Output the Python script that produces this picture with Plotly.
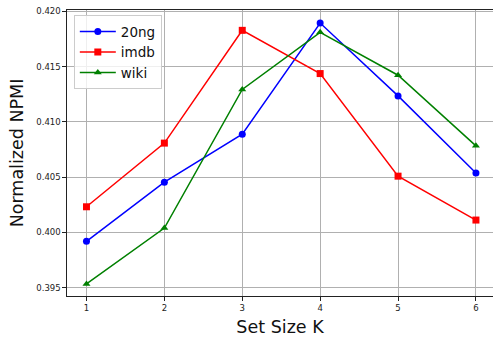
import plotly.graph_objects as go

set_size = [1, 2, 3, 4, 5, 6]
ng20 = [0.3992, 0.40455, 0.40889, 0.41894, 0.41235, 0.40537]
imdb = [0.40232, 0.40808, 0.41828, 0.41437, 0.40509, 0.40112]
wiki = [0.39534, 0.4004, 0.41293, 0.4181, 0.41422, 0.40783]
y_ticks = [0.395, 0.400, 0.405, 0.410, 0.415, 0.420]

fig = go.Figure()
series = [("20ng", ng20, "#0000ff", "circle"),
          ("imdb", imdb, "#ff0000", "square"),
          ("wiki", wiki, "#008000", "triangle-up")]
for name, vals, col, sym in series:
    fig.add_trace(go.Scatter(x=set_size, y=vals, name=name, mode="lines+markers",
                             line=dict(color=col, width=1.5),
                             marker=dict(color=col, symbol=sym, size=7)))

fig.update_layout(
    width=493, height=337,
    margin=dict(l=67, r=0, t=10, b=41),
    plot_bgcolor="white", paper_bgcolor="white",
    font=dict(family="DejaVu Sans", color="#222"),
    showlegend=True,
    legend=dict(x=0.016, y=0.982, xanchor="left", yanchor="top",
                bgcolor="rgba(255,255,255,0.8)", bordercolor="#cccccc", borderwidth=1,
                font=dict(size=13.5, color="#111"), itemwidth=36, tracegroupgap=0),
)
fig.update_xaxes(range=[0.75, 6.219], tickvals=set_size, ticktext=[str(v) for v in set_size],
                 showgrid=True, gridcolor="#b0b0b0", gridwidth=1,
                 showline=True, linecolor="#222", linewidth=1.2, mirror=True,
                 ticks="outside", ticklen=3.5, tickcolor="#222", tickfont=dict(size=8.5),
                 title=dict(text="Set Size K", font=dict(size=17.5, color="#111"), standoff=10),
                 zeroline=False)
fig.update_yaxes(range=[0.39425, 0.42012], tickvals=y_ticks, ticktext=[f"{v:.3f}" for v in y_ticks],
                 showgrid=True, gridcolor="#b0b0b0", gridwidth=1,
                 showline=True, linecolor="#222", linewidth=1.2,
                 ticks="outside", ticklen=3.5, tickcolor="#222", tickfont=dict(size=8.5),
                 title=dict(text="Normalized NPMI", font=dict(size=17.5, color="#111"), standoff=8),
                 zeroline=False)

fig.write_html("out.html", config={"displayModeBar": False},
               post_script="document.body.style.margin='0';document.body.style.padding='0';")
